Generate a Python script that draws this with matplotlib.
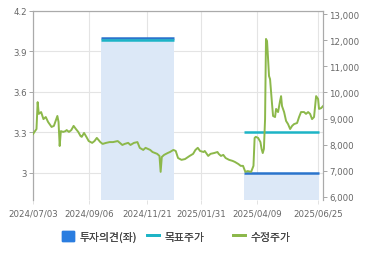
import matplotlib
matplotlib.use("Agg")
from matplotlib import pyplot as plt
from matplotlib.patches import Patch
from matplotlib.lines import Line2D

# x axis is a trading-day index
tick_pos = [0, 48.3, 98.3, 144.8, 193.1, 245.7]
tick_labels = ["2024/07/03", "2024/09/06", "2024/11/21", "2025/01/31", "2025/04/09", "2025/06/25"]

# investment opinion periods (left axis) and target price (right axis)
period_start = [58.6, 181.9]
period_end = [121.5, 246.5]
opinion = [4.0, 3.0]
target = [12000, 8500]

# adjusted price (right axis)
price_x = [0, 3, 4, 5, 7, 9, 11, 13, 16, 18, 21, 22, 23, 24, 26, 28, 29, 31, 33, 35,
           37, 39, 41, 42, 44, 46, 48, 51, 53, 55, 58, 60, 63, 66, 69, 73, 77, 79, 82, 84,
           87, 90, 92, 95, 97, 101, 103, 107, 109, 110, 111, 113, 116, 118, 121, 123, 125, 128, 131, 135,
           138, 140, 142, 144, 147, 148, 151, 153, 156, 159, 160, 162, 164, 166, 169, 172, 174, 177, 179, 181,
           183, 185, 188, 190, 191, 192, 194, 196, 197, 198, 199, 200, 200.8, 201.7, 202.6, 203.4, 204.3, 206.0, 206.9, 208.6,
           209.5, 211.2, 212.9, 213.8, 214.6, 216.4, 218.1, 219.8, 221.6, 223.3, 225.0, 227.6, 229.3, 231.0, 233.6, 235.3,
           237.1, 238.8, 240.5, 242.2, 244.0, 245.7, 246.5, 248.3, 250.0]
price = [8410, 8600, 9630, 9180, 9250, 8980, 9060, 8870, 8680, 8720, 9100, 8870, 7950, 8520, 8490, 8520, 8560, 8490, 8560, 8720,
         8600, 8490, 8330, 8300, 8450, 8300, 8140, 8070, 8140, 8260, 8100, 8030, 8070, 8100, 8100, 8140, 7990, 8030, 8070, 7990,
         8070, 8100, 7880, 7800, 7880, 7800, 7720, 7650, 7570, 6960, 7530, 7610, 7680, 7720, 7800, 7760, 7490, 7420, 7450, 7570,
         7650, 7800, 7880, 7760, 7720, 7760, 7570, 7650, 7680, 7720, 7650, 7570, 7610, 7490, 7420, 7380, 7340, 7260, 7190, 7190,
         6960, 6990, 6960, 7190, 8260, 8300, 8260, 8100, 7840, 7680, 7840, 8980, 12050, 11970, 11280, 10630, 10510, 9560, 9100, 9060,
         9370, 9250, 9670, 9860, 9480, 9250, 8910, 8790, 8600, 8720, 8790, 8830, 9060, 9250, 9250, 9180,
         9250, 9180, 8980, 9060, 9860, 9750, 9370, 9400, 9480]

grey = "#666666"
fig = plt.figure(figsize=(3.7, 2.55), dpi=100)
ax = fig.add_axes([0.0892, 0.212, 0.784, 0.741])
ax2 = ax.twinx()

for s, e, v in zip(period_start, period_end, opinion):
    ax.fill_between([s, e], [2.8, 2.8], [v, v], color="#dce8f7", lw=0, zorder=1)
for s, e, t in zip(period_start, period_end, target):
    ax2.plot([s, e], [t, t], color="#1db4c6", lw=1.8, solid_capstyle="butt", zorder=3)
for s, e, v in zip(period_start, period_end, opinion):
    ax.plot([s, e], [v, v], color="#2a74cc", lw=1.8, solid_capstyle="butt", zorder=2)
ax2.plot(price_x, price, color="#8cb84a", lw=1.4, zorder=4)

ax.set_xlim(0, 250)
ax.set_ylim(2.8, 4.2)
ax2.set_ylim(5885, 13120)
ax.set_yticks([3, 3.3, 3.6, 3.9, 4.2])
ax.set_yticklabels(["3", "3.3", "3.6", "3.9", "4.2"])
ax.set_xticks(tick_pos)
ax.set_xticklabels(tick_labels)
ax2.set_yticks(range(6000, 13001, 1000))
ax2.set_yticklabels([f"{v:,}" for v in range(6000, 13001, 1000)])

ax.grid(True, color="#e4e4e4", lw=0.8, zorder=0)
ax.set_axisbelow(True)
for a in (ax, ax2):
    a.tick_params(labelsize=6.2, colors="#999999", labelcolor=grey, length=3, width=0.6, pad=1.5)
    for side in ("left", "right", "top"):
        a.spines[side].set_color("#aaaaaa")
        a.spines[side].set_linewidth(0.8)
    a.spines["bottom"].set_visible(False)
ax.tick_params(axis="x", colors="#dddddd", labelcolor=grey, pad=3)

items = [(Patch(color="#2a7de0"), "투자의견(좌)", 0.168),
         (Line2D([], [], color="#1db4c6", lw=2), "목표주가", 0.397),
         (Line2D([], [], color="#8cb84a", lw=2), "수정주가", 0.630)]
for h, lab, xpos in items:
    lg = fig.legend([h], [lab], loc="center left", bbox_to_anchor=(xpos, 0.07), frameon=False,
                    prop={"family": ["Noto Sans CJK KR", "DejaVu Sans"], "size": 7.8},
                    labelcolor="#444444", handlelength=1.1, handleheight=1.1, handletextpad=0.5,
                    borderpad=0, borderaxespad=0)
    fig.add_artist(lg)

fig.savefig("out.png", dpi=100)
